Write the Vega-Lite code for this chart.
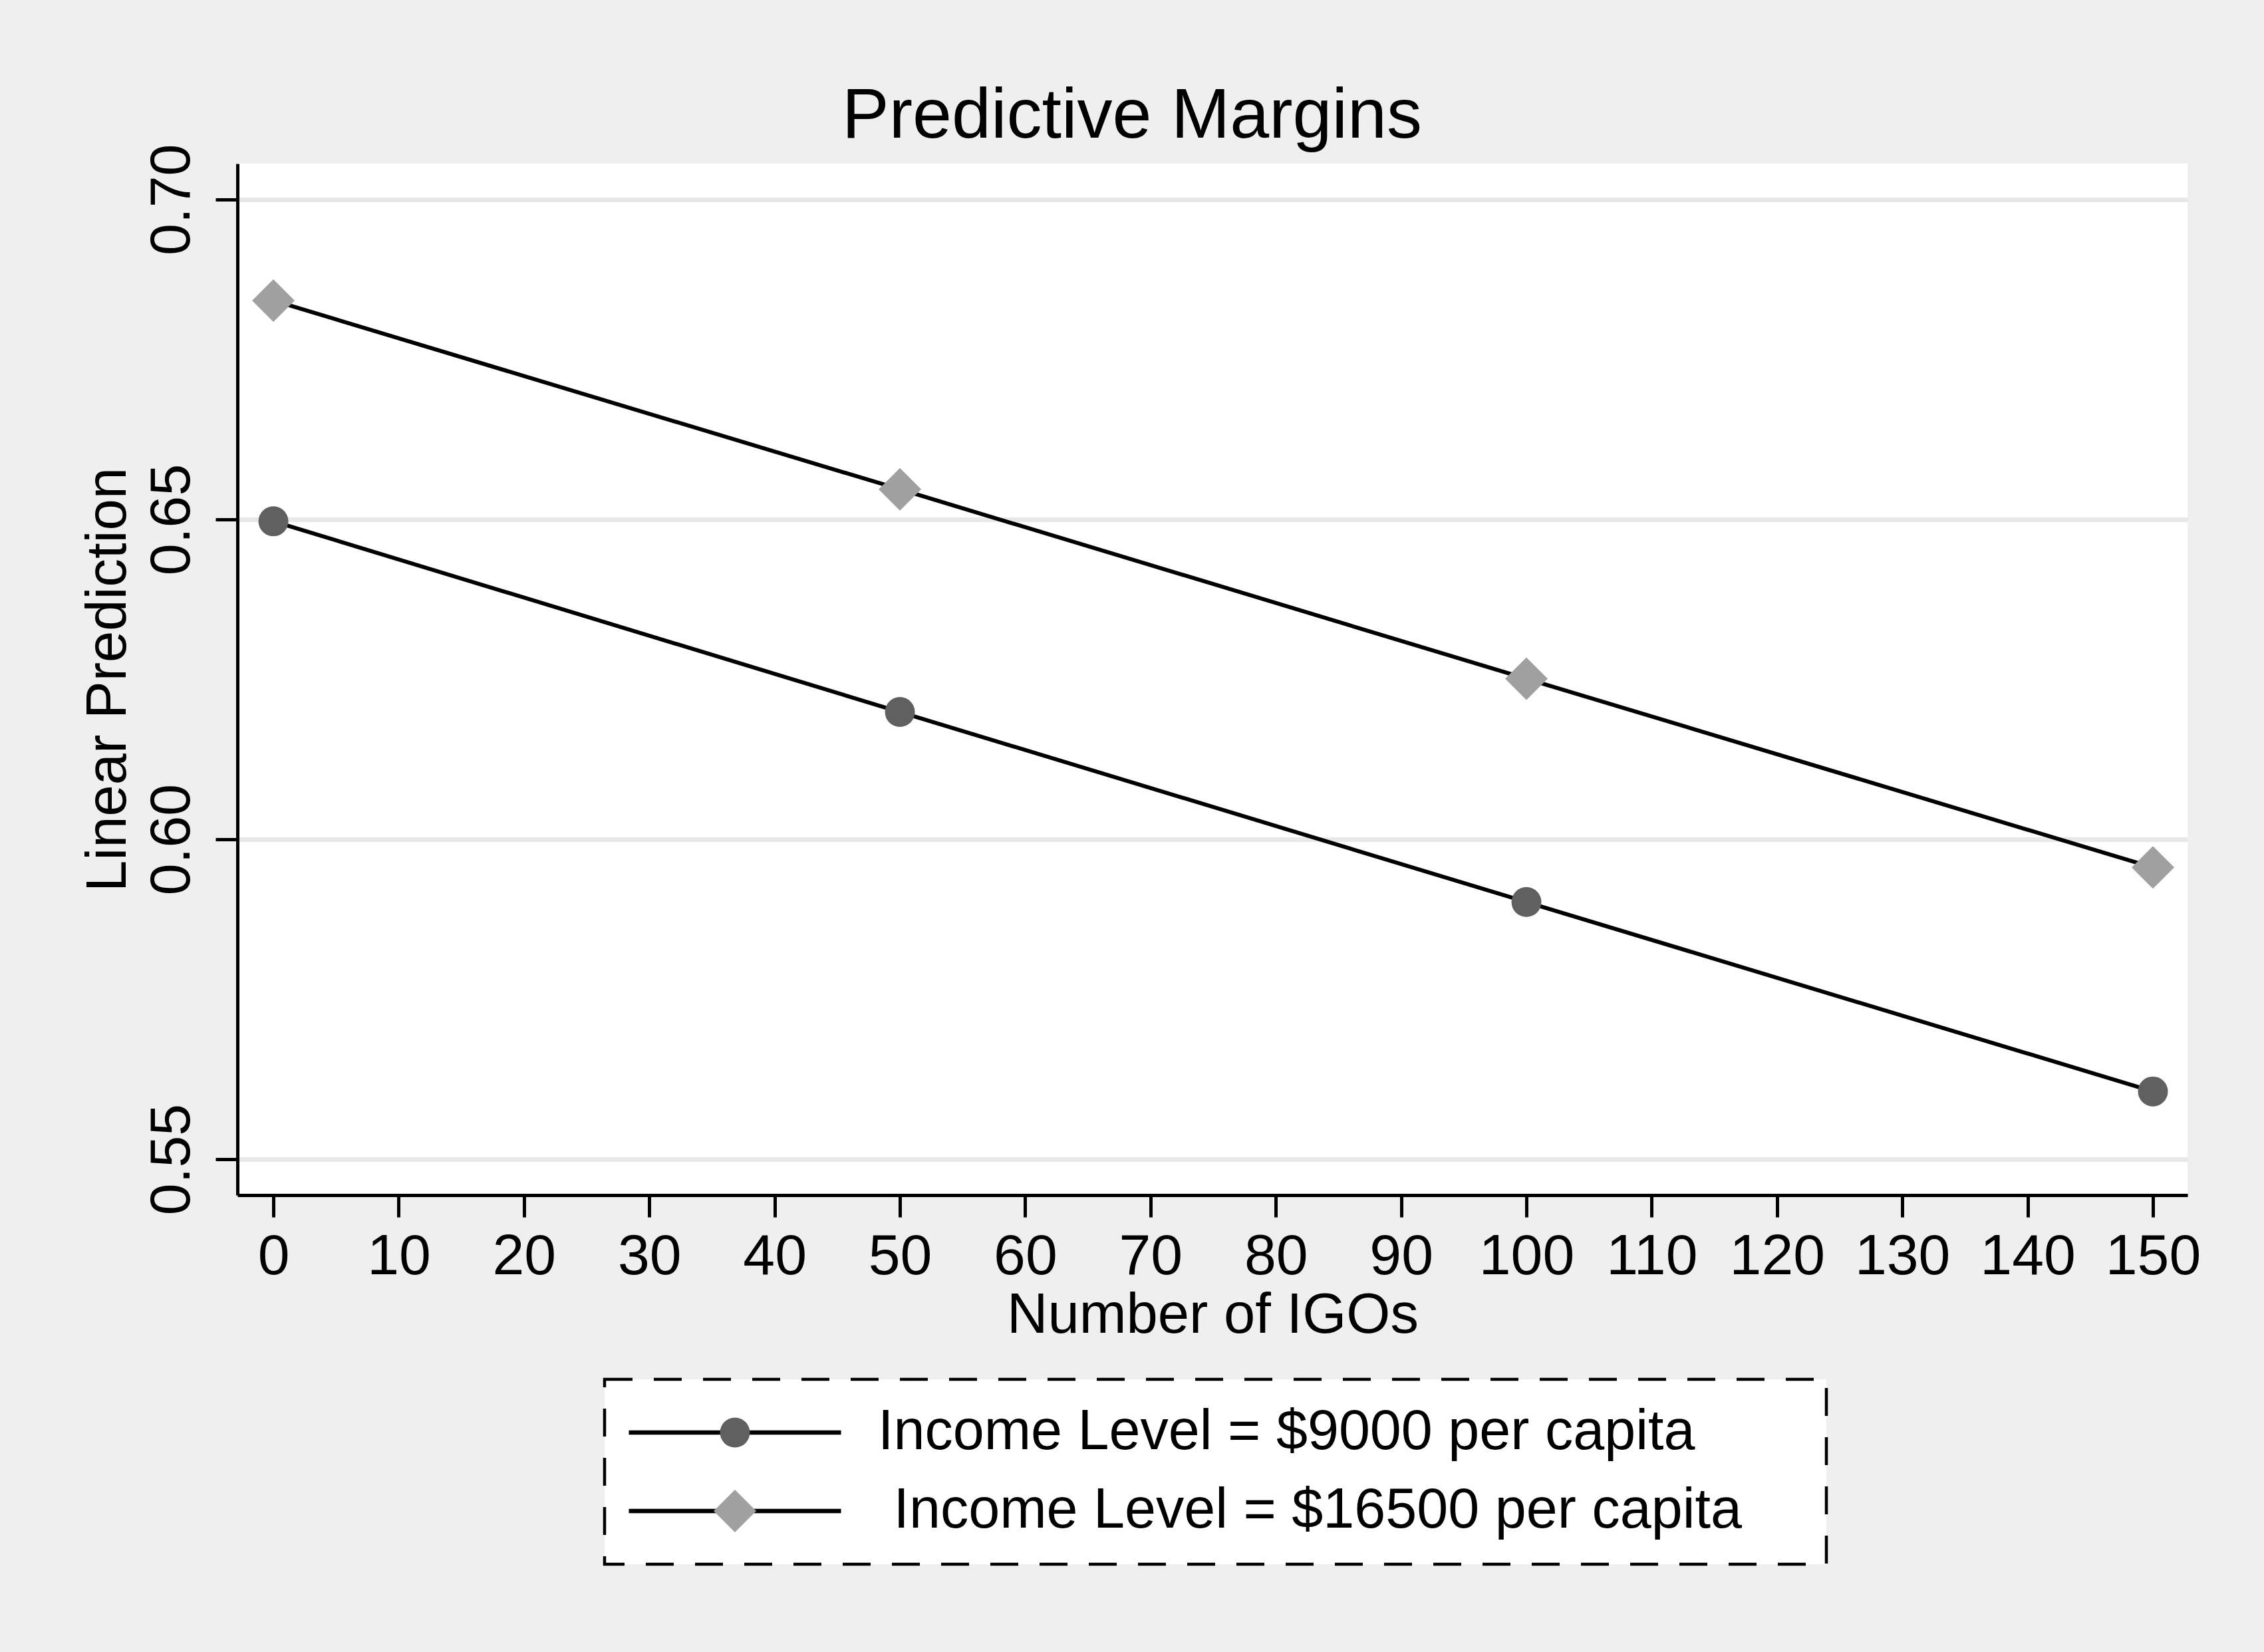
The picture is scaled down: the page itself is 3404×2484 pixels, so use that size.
{
  "$schema": "https://vega.github.io/schema/vega-lite/v6.json",
  "width": 2932,
  "height": 1551,
  "autosize": {"type": "none"},
  "padding": {"left": 357, "top": 246, "right": 115, "bottom": 687},
  "background": "#efefef",
  "title": {
    "text": "Predictive Margins",
    "font": "Liberation Sans",
    "fontSize": 106,
    "fontWeight": "normal",
    "color": "black",
    "anchor": "middle",
    "dx": -121,
    "dy": 17
  },
  "config": {
    "font": "Liberation Sans",
    "view": {"fill": "white", "stroke": null},
    "axis": {
      "domainColor": "black",
      "domainWidth": 5,
      "tickColor": "black",
      "tickWidth": 5,
      "tickSize": 33,
      "labelFont": "Liberation Sans",
      "labelFontSize": 86,
      "labelColor": "black",
      "titleFont": "Liberation Sans",
      "titleFontSize": 85,
      "titleFontWeight": "normal",
      "titleColor": "black",
      "gridColor": "#e8e8e8",
      "gridWidth": 7,
      "gridOpacity": 1
    }
  },
  "data": {
    "values": [
      {"igos": 0, "pred": 0.6497, "series": "Income Level = $9000 per capita"},
      {"igos": 50, "pred": 0.6199, "series": "Income Level = $9000 per capita"},
      {"igos": 100, "pred": 0.5902, "series": "Income Level = $9000 per capita"},
      {"igos": 150, "pred": 0.5606, "series": "Income Level = $9000 per capita"},
      {"igos": 0, "pred": 0.6842, "series": "Income Level = $16500 per capita"},
      {"igos": 50, "pred": 0.6547, "series": "Income Level = $16500 per capita"},
      {"igos": 100, "pred": 0.6251, "series": "Income Level = $16500 per capita"},
      {"igos": 150, "pred": 0.5956, "series": "Income Level = $16500 per capita"}
    ]
  },
  "encoding": {
    "x": {
      "field": "igos",
      "type": "quantitative",
      "scale": {"domain": [-2.87, 152.76], "nice": false, "zero": false},
      "axis": {
        "title": "Number of IGOs",
        "values": [0, 10, 20, 30, 40, 50, 60, 70, 80, 90, 100, 110, 120, 130, 140, 150],
        "grid": false,
        "labelPadding": 17,
        "titlePadding": 4
      }
    },
    "y": {
      "field": "pred",
      "type": "quantitative",
      "scale": {"domain": [0.5444, 0.7056], "nice": false, "zero": false},
      "axis": {
        "title": "Linear Prediction",
        "values": [0.55, 0.6, 0.65, 0.7],
        "format": ".2f",
        "grid": true,
        "labelAngle": -90,
        "labelAlign": "center",
        "labelBaseline": "bottom",
        "labelPadding": 22,
        "titlePadding": 9
      }
    }
  },
  "layer": [
    {
      "mark": {"type": "line", "strokeWidth": 6},
      "encoding": {
        "stroke": {
          "field": "series",
          "type": "nominal",
          "scale": {
            "domain": ["Income Level = $9000 per capita", "Income Level = $16500 per capita"],
            "range": ["black", "black"]
          },
          "legend": {
            "orient": "none",
            "legendX": 552,
            "legendY": 1828,
            "direction": "vertical",
            "title": null,
            "padding": 33,
            "fillColor": "white",
            "strokeColor": "black",
            "symbolType": "stroke",
            "symbolSize": 101761,
            "symbolStrokeWidth": 6.5,
            "clipHeight": 94,
            "rowPadding": 24,
            "labelFont": "Liberation Sans",
            "labelFontSize": 84.5,
            "labelColor": "black",
            "labelOffset": 52,
            "labelLimit": 0,
            "encode": {
              "legend": {
                "update": {
                  "strokeWidth": {"value": 4.5},
                  "strokeDash": {"value": [42, 32]}
                }
              },
              "labels": {
                "update": {
                  "text": {"signal": "'\u200b' + (datum.value == 'Income Level = $16500 per capita' ? '\u00a0' : '') + datum.label + '\u00a0\u00a0\u00a0\u00a0\u200b'"}
                }
              }
            }
          }
        }
      }
    },
    {
      "mark": {"type": "point", "filled": true, "opacity": 1, "strokeWidth": 0},
      "encoding": {
        "fill": {
          "field": "series",
          "type": "nominal",
          "sort": "descending",
          "scale": {"range": ["#606060", "#a0a0a0"]},
          "legend": {
            "orient": "none",
            "legendX": 552,
            "legendY": 1828,
            "direction": "vertical",
            "title": null,
            "padding": 33,
            "symbolStrokeWidth": 0,
            "symbolOffset": 131,
            "clipHeight": 94,
            "rowPadding": 24,
            "labelFontSize": 10,
            "labelOpacity": 0
          }
        },
        "shape": {
          "field": "series",
          "type": "nominal",
          "sort": "descending",
          "scale": {"range": ["circle", "diamond"]}
        },
        "size": {
          "field": "series",
          "type": "nominal",
          "sort": "descending",
          "scale": {"type": "point", "padding": 0, "range": [2025, 4096]}
        }
      }
    }
  ]
}
